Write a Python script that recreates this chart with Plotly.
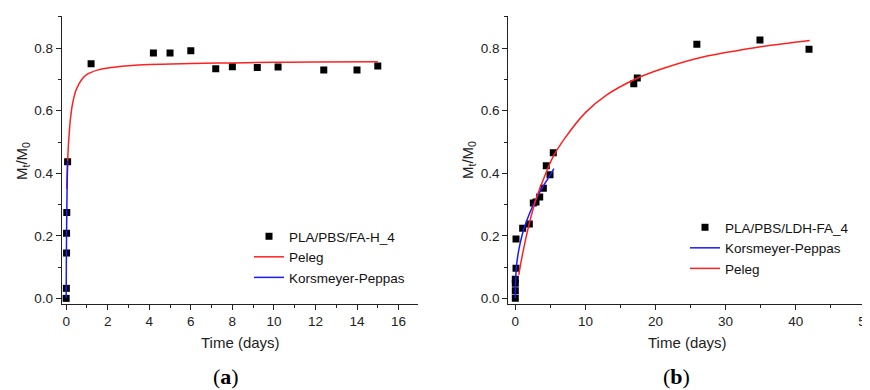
import plotly.graph_objects as go

# Page body has an 8px margin, so the figure is drawn 8px in from the top-left.
OFF = 8
W, H = 870 - OFF, 390 - OFF


def px(x):
    return (x - OFF) / W


def py(y):
    return 1 - (y - OFF) / H


# ---------------- Panel (a) data ----------------
a_time = [0.0, 0.01, 0.02, 0.02, 0.03, 0.07, 1.2, 4.2, 5.0, 6.0, 7.2, 8.0, 9.2, 10.2, 12.4, 14.0, 15.0]
a_frac = [0.0, 0.032, 0.145, 0.208, 0.275, 0.437, 0.75, 0.785, 0.785, 0.792, 0.734, 0.741, 0.738, 0.740, 0.730, 0.730, 0.743]

a_peleg_t = [0.03, 0.05, 0.08, 0.1, 0.15, 0.2, 0.3, 0.4, 0.5, 0.75, 1.0, 1.5, 2.0, 3.0, 4.0, 6.0, 8.0, 10.0, 12.0, 15.0]
a_peleg_y = [0.35, 0.40, 0.45, 0.48, 0.53, 0.57, 0.62, 0.65, 0.67, 0.70, 0.716, 0.73, 0.737, 0.744, 0.748, 0.751, 0.753, 0.755, 0.756, 0.757]

a_kp_t = [0.0, 0.01, 0.02, 0.035, 0.05, 0.07]
a_kp_y = [0.0, 0.12, 0.21, 0.30, 0.37, 0.44]

# ---------------- Panel (b) data ----------------
b_time = [0.0, 0.0, 0.0, 0.0, 0.1, 0.1, 1.05, 2.0, 2.57, 2.95, 3.48, 4.0, 4.42, 4.95, 5.42, 16.9, 17.4, 25.9, 34.9, 41.9]
b_frac = [0.0, 0.024, 0.048, 0.061, 0.096, 0.19, 0.224, 0.238, 0.305, 0.308, 0.324, 0.352, 0.424, 0.395, 0.466, 0.686, 0.705, 0.813, 0.826, 0.797]

b_kp_t = [0.0, 0.05, 0.2, 0.5, 1.0, 1.5, 2.0, 3.0, 4.0, 5.0, 5.5]
b_kp_y = [0.0, 0.06, 0.11, 0.155, 0.205, 0.24, 0.27, 0.32, 0.36, 0.395, 0.415]

b_peleg_t = [0.5, 1.0, 2.0, 3.0, 4.0, 5.4, 7.0, 10.0, 13.0, 17.0, 20.0, 26.0, 30.0, 35.0, 42.0]
b_peleg_y = [0.075, 0.138, 0.24, 0.32, 0.38, 0.453, 0.51, 0.594, 0.65, 0.70, 0.727, 0.768, 0.786, 0.805, 0.825]

x_title = "Time (days)"
y_title = "M<sub>t</sub>/M<sub>0</sub>"
panel_labels = ["(<b>a</b>)", "(<b>b</b>)"]

FONT = "Liberation Sans, Arial, sans-serif"
RED = "#ff2020"
BLUE = "#1a1aff"

fig = go.Figure()

# Panel (a) traces
fig.add_trace(go.Scatter(x=a_time, y=a_frac, mode="markers", name="PLA/PBS/FA-H_4",
                         marker=dict(symbol="square", size=7, color="black"),
                         xaxis="x", yaxis="y", legend="legend"))
fig.add_trace(go.Scatter(x=a_peleg_t, y=a_peleg_y, mode="lines", name="Peleg",
                         line=dict(color=RED, width=1.5, shape="spline"),
                         xaxis="x", yaxis="y", legend="legend"))
fig.add_trace(go.Scatter(x=a_kp_t, y=a_kp_y, mode="lines", name="Korsmeyer-Peppas",
                         line=dict(color=BLUE, width=1.5, shape="spline"),
                         xaxis="x", yaxis="y", legend="legend"))

# Panel (b) traces
fig.add_trace(go.Scatter(x=b_time, y=b_frac, mode="markers", name="PLA/PBS/LDH-FA_4",
                         marker=dict(symbol="square", size=7, color="black"),
                         xaxis="x2", yaxis="y2", legend="legend2"))
fig.add_trace(go.Scatter(x=b_kp_t, y=b_kp_y, mode="lines", name="Korsmeyer-Peppas",
                         line=dict(color=BLUE, width=1.5, shape="spline"),
                         xaxis="x2", yaxis="y2", legend="legend2"))
fig.add_trace(go.Scatter(x=b_peleg_t, y=b_peleg_y, mode="lines", name="Peleg",
                         line=dict(color=RED, width=1.5, shape="spline"),
                         xaxis="x2", yaxis="y2", legend="legend2"))

ydom = [py(304), py(16)]
axis_common = dict(showline=True, linecolor="#222", linewidth=1.3, ticks="outside",
                   ticklen=5, tickwidth=1.2, tickcolor="#222", showgrid=False, zeroline=False,
                   automargin=False, ticklabeloverflow="allow",
                   tickfont=dict(family=FONT, size=13.5, color="#222"))

legend_common = dict(font=dict(family=FONT, size=13.5, color="#111"), bgcolor="rgba(0,0,0,0)",
                     xanchor="left", yanchor="top", tracegroupgap=0, traceorder="normal")

fig.update_layout(
    width=W, height=H, margin=dict(l=0, r=0, t=0, b=0, autoexpand=False),
    paper_bgcolor="white", plot_bgcolor="white",
    xaxis=dict(domain=[px(62), px(418.3)], range=[-0.2, 16.95], dtick=2, tick0=0,
               minor=dict(dtick=1, ticks="outside", ticklen=3, tickcolor="#222"),
               anchor="y", **axis_common),
    yaxis=dict(domain=ydom, range=[-0.018, 0.903], dtick=0.2, tick0=0, tickformat=".1f",
               minor=dict(dtick=0.1, ticks="outside", ticklen=3, tickcolor="#222"),
               anchor="x", **axis_common),
    xaxis2=dict(domain=[px(508.3), px(865.8)], range=[-1, 50], dtick=10, tick0=0,
                minor=dict(dtick=5, ticks="outside", ticklen=3, tickcolor="#222"),
                anchor="y2", **axis_common),
    yaxis2=dict(domain=ydom, range=[-0.018, 0.903], dtick=0.2, tick0=0, tickformat=".1f",
                minor=dict(dtick=0.1, ticks="outside", ticklen=3, tickcolor="#222"),
                anchor="x2", **axis_common),
    legend=dict(x=px(249), y=py(221), **legend_common),
    legend2=dict(x=px(685), y=py(212), **legend_common),
    showlegend=True,
)

annots = [
    dict(x=px(240), y=py(342), text=x_title, font=dict(family=FONT, size=15, color="#222")),
    dict(x=px(687), y=py(342), text=x_title, font=dict(family=FONT, size=15, color="#222")),
    dict(x=px(22), y=py(161), text=y_title, textangle=-90, font=dict(family=FONT, size=15, color="#222")),
    dict(x=px(468), y=py(160), text=y_title, textangle=-90, font=dict(family=FONT, size=15, color="#222")),
    dict(x=px(226), y=py(376), text=panel_labels[0], font=dict(family="Liberation Serif, serif", size=22, color="black")),
    dict(x=px(676), y=py(376), text=panel_labels[1], font=dict(family="Liberation Serif, serif", size=22, color="black")),
]
for a in annots:
    a.update(xref="paper", yref="paper", showarrow=False, xanchor="center", yanchor="middle")
fig.update_layout(annotations=annots)

fig.write_html("out.html")
